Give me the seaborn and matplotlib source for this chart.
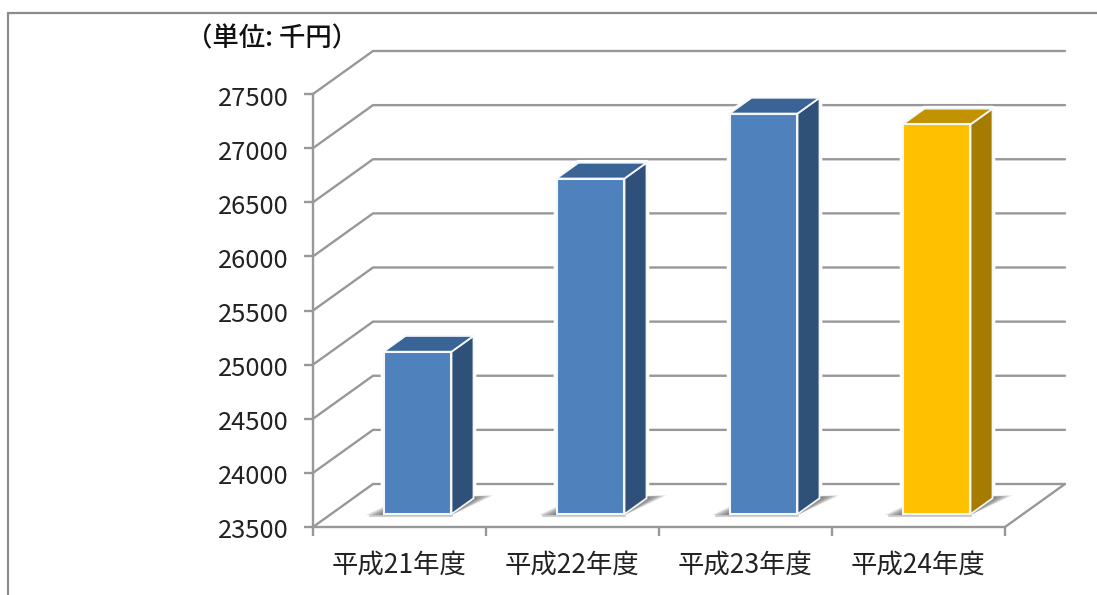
import matplotlib
matplotlib.use("Agg")
import matplotlib.pyplot as plt
import numpy as np
import pandas as pd
import seaborn as sns
from matplotlib.lines import Line2D
from matplotlib.patches import Polygon
from matplotlib.transforms import Affine2D, IdentityTransform

# Annual totals, in thousands of yen
years = ["平成21年度", "平成22年度", "平成23年度", "平成24年度"]
amounts = [25000, 26600, 27200, 27100]
y_ticks = [23500, 24000, 24500, 25000, 25500, 26000, 26500, 27000, 27500]
unit_label = "（単位: 千円）"

# face, side and top shades for each bar
face_colors = ["#4F81BD", "#4F81BD", "#4F81BD", "#FFC000"]
side_colors = ["#2F5078", "#2F5078", "#2F5078", "#A67C00"]
top_colors = ["#3A6496", "#3A6496", "#3A6496", "#C29200"]

W, H = 1097, 595
AXIS_GRAY = "#989898"
TEXT = "#222222"
EDGE = "#F4F7FB"

# oblique projection of the box, in pixels
DEPTH_X, DEPTH_Y = 60, 43
BAR_FRONT = 0.3      # depth of the bar's front face
BAR_BACK = 0.667     # depth of the bar's back face

sns.set_theme(style="white")
plt.rcParams["font.family"] = ["Noto Sans CJK JP", "DejaVu Sans"]

fig = plt.figure(figsize=(W / 100, H / 100), dpi=100, facecolor="white")
ax = fig.add_axes([313 / W, (H - 527) / H, 692 / W, 433 / H])
ax.patch.set_alpha(0)

floor = y_ticks[0]
data = pd.DataFrame({"year": years, "height": np.array(amounts) - floor})
sns.barplot(
    data=data, x="year", y="height", hue="year", palette=face_colors,
    bottom=floor, width=0.393, legend=False, ax=ax, saturation=1, zorder=5,
)
ax.set_xlim(-0.5, len(years) - 0.5)
ax.set_ylim(y_ticks[0], y_ticks[-1])
ax.set_xlabel("")
ax.set_ylabel("")


def to_px(x, y, depth=0.0):
    """Data position pushed back along the depth axis, in display pixels."""
    px, py = ax.transData.transform((x, y))
    return px + DEPTH_X * depth, py + DEPTH_Y * depth


def add_poly(points, **kwargs):
    ax.add_patch(Polygon(points, closed=True, transform=IdentityTransform(),
                         clip_on=False, **kwargs))


def add_line(points, lw=1.7, **kwargs):
    xs, ys = zip(*points)
    ax.add_line(Line2D(xs, ys, transform=IdentityTransform(), clip_on=False,
                       color=AXIS_GRAY, lw=lw, solid_capstyle="round", **kwargs))


# side wall and back wall gridlines, with the floor outline
x_lo, x_hi = ax.get_xlim()
for v in y_ticks:
    add_line([to_px(x_lo, v), to_px(x_lo, v, 1), to_px(x_hi, v, 1)], zorder=1)
add_line([to_px(x_hi, floor, 1), to_px(x_hi, floor)], zorder=1)

front_shift = Affine2D().translate(DEPTH_X * BAR_FRONT, DEPTH_Y * BAR_FRONT)
for i, bar in enumerate(ax.patches[: len(years)]):
    x0, x1 = bar.get_x(), bar.get_x() + bar.get_width()
    y0, y1 = bar.get_y(), bar.get_y() + bar.get_height()
    bar.set_transform(ax.transData + front_shift)
    bar.set_clip_on(False)
    bar.set_edgecolor(EDGE)
    bar.set_linewidth(1.5)

    fl = to_px(x0, y0, BAR_FRONT)
    fr = to_px(x1, y0, BAR_FRONT)
    bl = to_px(x0, y0, BAR_BACK)
    br = to_px(x1, y0, BAR_BACK)

    # white halo that keeps the gridlines clear of the box
    add_poly(
        [fl, fr, br, to_px(x1, y1, BAR_BACK), to_px(x0, y1, BAR_BACK),
         to_px(x0, y1, BAR_FRONT)],
        facecolor="white", edgecolor="white", lw=4, joinstyle="round", zorder=2,
    )

    # soft floor shadow, stacked from wide and pale to narrow and dark
    layers = 12
    for k in range(layers):
        t = k / (layers - 1)
        add_poly(
            [(fl[0] - 18 * (1 - t), fl[1] - 1),
             (bl[0] - 2 * (1 - t), bl[1] + 1 - 3 * t),
             (br[0] + 20 * (1 - t), br[1] + 3 - 2 * t),
             (fr[0], fr[1] - 1)],
            facecolor="#4A4A4A", alpha=0.10, edgecolor="none", zorder=3,
        )
    add_line([(fl[0] - 14, fl[1] - 1.5), (fr[0] + 1, fr[1] - 1.5)], lw=1.5,
             zorder=3, alpha=0.45)

    add_poly(
        [to_px(x1, y0, BAR_FRONT), to_px(x1, y1, BAR_FRONT),
         to_px(x1, y1, BAR_BACK), to_px(x1, y0, BAR_BACK)],
        facecolor=side_colors[i], edgecolor=EDGE, lw=1.3, zorder=4,
    )
    add_poly(
        [to_px(x0, y1, BAR_FRONT), to_px(x1, y1, BAR_FRONT),
         to_px(x1, y1, BAR_BACK), to_px(x0, y1, BAR_BACK)],
        facecolor=top_colors[i], edgecolor=EDGE, lw=1.3, zorder=4,
    )

# axes and tick marks
sns.despine(ax=ax)
for name in ("left", "bottom"):
    ax.spines[name].set_color(AXIS_GRAY)
    ax.spines[name].set_linewidth(1.7)
ax.set_yticks(y_ticks)
ax.set_xticks(range(len(years)))
ax.set_xticklabels(years)
ax.set_xticks(np.arange(len(years) + 1) - 0.5, minor=True)
ax.tick_params(axis="y", which="major", left=True, length=6.5, width=1.7,
               color=AXIS_GRAY, labelcolor=TEXT, labelsize=18.4, pad=11)
ax.tick_params(axis="x", which="major", bottom=False, length=0,
               labelcolor=TEXT, labelsize=19, pad=17.5)
ax.tick_params(axis="x", which="minor", bottom=True, length=6.5, width=1.7,
               color=AXIS_GRAY)

# nudge the value labels down so they sit level with their tick marks
label_nudge = Affine2D().translate(0, -1.5)
for label in ax.get_yticklabels():
    label.set_transform(label.get_transform() + label_nudge)

fig.text(272 / W, (H - 39) / H, unit_label, ha="center", va="center",
         fontsize=19, color="#111111", fontweight="medium")

# outer frame: top and left edges only
for xs, ys in (([8 / W, 1], [(H - 13) / H] * 2), ([8 / W] * 2, [0, (H - 13) / H])):
    fig.add_artist(Line2D(xs, ys, transform=fig.transFigure, color="#8C8C8C", lw=1.6))

fig.savefig("out.png", dpi=100, facecolor="white")
